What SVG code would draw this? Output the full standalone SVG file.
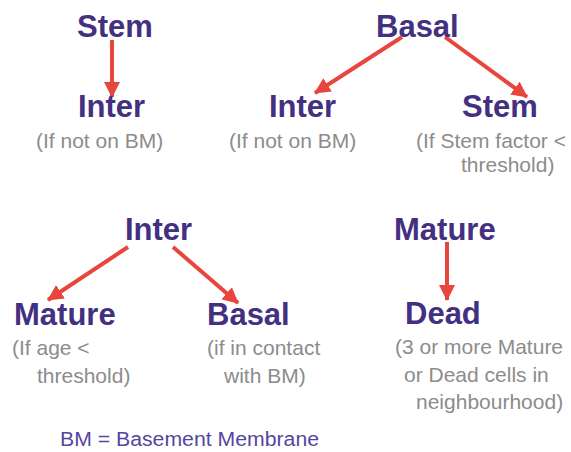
<svg xmlns="http://www.w3.org/2000/svg" width="571" height="452" viewBox="0 0 571 452">
<style>
.t{font-family:"Liberation Sans",Arial,sans-serif;font-weight:bold;font-size:31px;fill:#433080}
.s{font-family:"Liberation Sans",Arial,sans-serif;font-size:21px;fill:#8c8c8c}
.k{font-family:"Liberation Sans",Arial,sans-serif;font-size:20px;fill:#5546a0}
.c{stroke:#e8453c;stroke-width:4;fill:none;marker-end:url(#ah)}
</style>
<defs>
<marker id="ah" markerUnits="userSpaceOnUse" markerWidth="16" markerHeight="16" refX="15" refY="8" orient="auto">
<path d="M0,0 L16,8 L0,16 Z" fill="#e8453c"/>
</marker>
</defs>
<rect width="571" height="452" fill="#ffffff"/>
<g id="connectors">
<line class="c" x1="112" y1="40" x2="112" y2="97"/>
<line class="c" x1="402" y1="37" x2="315" y2="93"/>
<line class="c" x1="445" y1="37" x2="527" y2="97"/>
<line class="c" x1="128" y1="247" x2="48" y2="300"/>
<line class="c" x1="173" y1="247" x2="238" y2="303"/>
<line class="c" x1="447" y1="242" x2="447" y2="300"/>
</g>
<g id="stem1"><text class="t" x="77" y="37">Stem</text></g>
<g id="inter1"><text class="t" x="78" y="117">Inter</text><text class="s" x="36" y="148">(If not on BM)</text></g>
<g id="basal1"><text class="t" x="376" y="37">Basal</text></g>
<g id="inter2"><text class="t" x="269" y="117">Inter</text><text class="s" x="229" y="148">(If not on BM)</text></g>
<g id="stem2"><text class="t" x="462" y="117">Stem</text><text class="s" x="416" y="148">(If Stem factor &lt;</text><text class="s" x="461" y="172">threshold)</text></g>
<g id="inter3"><text class="t" x="125" y="240">Inter</text></g>
<g id="mature1"><text class="t" x="14" y="325">Mature</text><text class="s" x="12" y="355">(If age &lt;</text><text class="s" x="37" y="383">threshold)</text></g>
<g id="basal2"><text class="t" x="207" y="325">Basal</text><text class="s" x="207" y="355">(if in contact</text><text class="s" x="224" y="383">with BM)</text></g>
<g id="mature2"><text class="t" x="394" y="240">Mature</text></g>
<g id="dead"><text class="t" x="405" y="324">Dead</text><text class="s" x="395" y="354">(3 or more Mature</text><text class="s" x="404" y="382">or Dead cells in</text><text class="s" x="416" y="409">neighbourhood)</text></g>
<g id="legend"><text class="k" x="60" y="446" textLength="259" lengthAdjust="spacingAndGlyphs">BM = Basement Membrane</text></g>
</svg>
